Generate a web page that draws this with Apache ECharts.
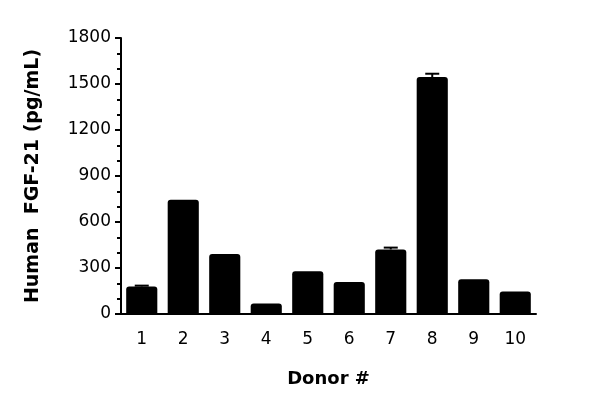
<!DOCTYPE html>
<html>
<head>
<meta charset="utf-8">
<script src="https://cdn.jsdelivr.net/npm/echarts@6/dist/echarts.min.js"></script>
<style>
html,body{margin:0;padding:0;background:#fff;}
#chart{width:600px;height:408px;}
</style>
</head>
<body>
<div id="chart"></div>
<script>
var categories = ['1','2','3','4','5','6','7','8','9','10'];
var values = [180, 745, 392, 68, 279, 209, 421, 1545, 226, 146];
var errors = [5, 0, 0, 0, 0, 0, 12, 22, 0, 0];
var yTicks = [0, 300, 600, 900, 1200, 1500, 1800];

var FONT = 'DejaVu Sans';
var chart = echarts.init(document.getElementById('chart'));
var errData = [];
values.forEach(function (v, i) { if (errors[i] > 0) errData.push([i, v, v + errors[i]]); });

chart.setOption({
  animation: false,
  backgroundColor: '#fff',
  grid: { left: 121, right: 64, top: 38, bottom: 94 },
  xAxis: {
    type: 'category',
    data: categories,
    name: 'Donor #',
    nameLocation: 'middle',
    nameGap: 56,
    nameTextStyle: { fontFamily: FONT, fontSize: 18, fontWeight: 'bold', color: '#000' },
    axisLine: { lineStyle: { color: '#000', width: 2 } },
    axisTick: { alignWithLabel: true, length: 6, lineStyle: { color: '#000', width: 2 } },
    axisLabel: { fontFamily: FONT, fontSize: 17, color: '#000', margin: 17 },
    splitLine: { show: false }
  },
  yAxis: {
    type: 'value',
    min: yTicks[0],
    max: yTicks[yTicks.length - 1],
    interval: 300,
    name: 'Human  FGF-21 (pg/mL)',
    nameLocation: 'middle',
    nameGap: 78,
    nameTextStyle: { fontFamily: FONT, fontSize: 19, fontWeight: 'bold', color: '#000' },
    axisLine: { show: true, lineStyle: { color: '#000', width: 2 } },
    axisTick: { show: true, length: 6, lineStyle: { color: '#000', width: 2 } },
    minorTick: { show: true, splitNumber: 3, length: 4, lineStyle: { color: '#000', width: 2 } },
    axisLabel: { fontFamily: FONT, fontSize: 17, color: '#000', margin: 10, formatter: function (v) { return String(v); } },
    splitLine: { show: false }
  },
  series: [
    {
      type: 'bar',
      data: values,
      barCategoryGap: '25%',
      itemStyle: { color: '#000', borderRadius: [3, 3, 0, 0] }
    },
    {
      type: 'custom',
      data: errData,
      z: 3,
      renderItem: function (params, api) {
        var i = api.value(0);
        var lo = api.coord([i, api.value(1)]);
        var hi = api.coord([i, api.value(2)]);
        var half = 7;
        return {
          type: 'group',
          children: [
            { type: 'line', shape: { x1: lo[0], y1: lo[1], x2: hi[0], y2: hi[1] }, style: { stroke: '#000', lineWidth: 2 } },
            { type: 'line', shape: { x1: hi[0] - half, y1: hi[1], x2: hi[0] + half, y2: hi[1] }, style: { stroke: '#000', lineWidth: 2 } }
          ]
        };
      }
    }
  ]
});
</script>
</body>
</html>
